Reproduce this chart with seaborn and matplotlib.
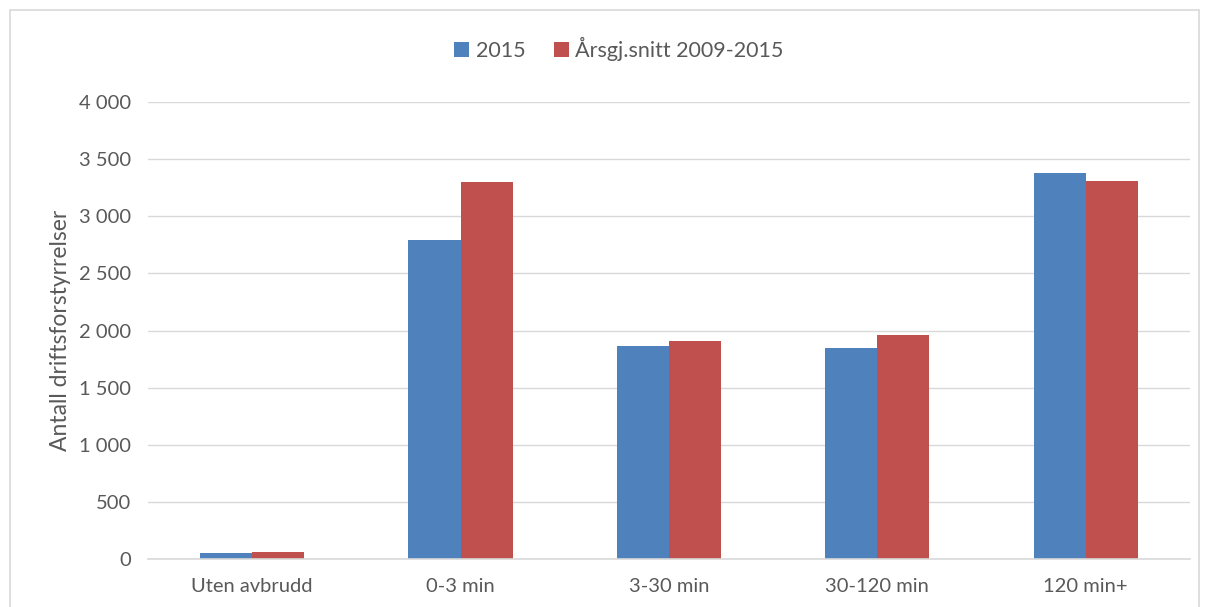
import pandas as pd
import matplotlib.pyplot as plt
import seaborn as sns
from matplotlib.ticker import FuncFormatter
from matplotlib.patches import Rectangle

# data
categories = ['Uten avbrudd', '0-3 min', '3-30 min', '30-120 min', '120 min+']
series_names = ['2015', 'Årsgj.snitt 2009-2015']
values_2015 = [55, 2790, 1865, 1845, 3380]
values_avg = [62, 3300, 1910, 1960, 3305]

df = pd.DataFrame({
    'kategori': categories * 2,
    'serie': [series_names[0]] * 5 + [series_names[1]] * 5,
    'antall': values_2015 + values_avg,
})

sns.set_theme(style='white')
plt.rcParams['font.family'] = ['Lato', 'DejaVu Sans']
txt = '#595959'

fig = plt.figure(figsize=(12.08, 6.07), dpi=100)
ax = fig.add_axes([0.1225, 0.079, 0.8625, 0.753])

sns.barplot(data=df, x='kategori', y='antall', hue='serie',
            palette=['#4f81bd', '#c0504d'], width=0.5, saturation=1,
            linewidth=0, ax=ax)

ax.set_ylim(0, 4000)
ax.set_xlim(-0.5, 4.5)
ax.set_yticks(range(0, 4001, 500))
ax.yaxis.set_major_formatter(FuncFormatter(lambda v, p: f'{int(v):,}'.replace(',', ' ')))
ax.grid(axis='y', color='#d9d9d9', linewidth=1)
ax.set_axisbelow(True)
for s in ['top', 'right', 'left']:
    ax.spines[s].set_visible(False)
ax.spines['bottom'].set_color('#d9d9d9')
ax.spines['bottom'].set_linewidth(1.2)
ax.tick_params(axis='both', length=0, labelsize=14.5, colors=txt)
ax.tick_params(axis='y', pad=12)
ax.tick_params(axis='x', pad=14)
ax.set_xlabel('')
ax.set_ylabel('Antall driftsforstyrrelser', fontsize=16.5, color=txt, labelpad=6)

ax.legend(loc='upper center', bbox_to_anchor=(0.452, 1.185), ncol=2, frameon=False,
          fontsize=15.5, labelcolor=txt, handlelength=0.7, handleheight=0.7,
          handletextpad=0.3, columnspacing=1.3)

fig.patches.append(Rectangle((10 / 1208, -0.01), 1189 / 1208, 1 - 10 / 607 + 0.01,
                             transform=fig.transFigure, fill=False,
                             edgecolor='#d9d9d9', linewidth=1.2))

fig.savefig('out.png', dpi=100)
